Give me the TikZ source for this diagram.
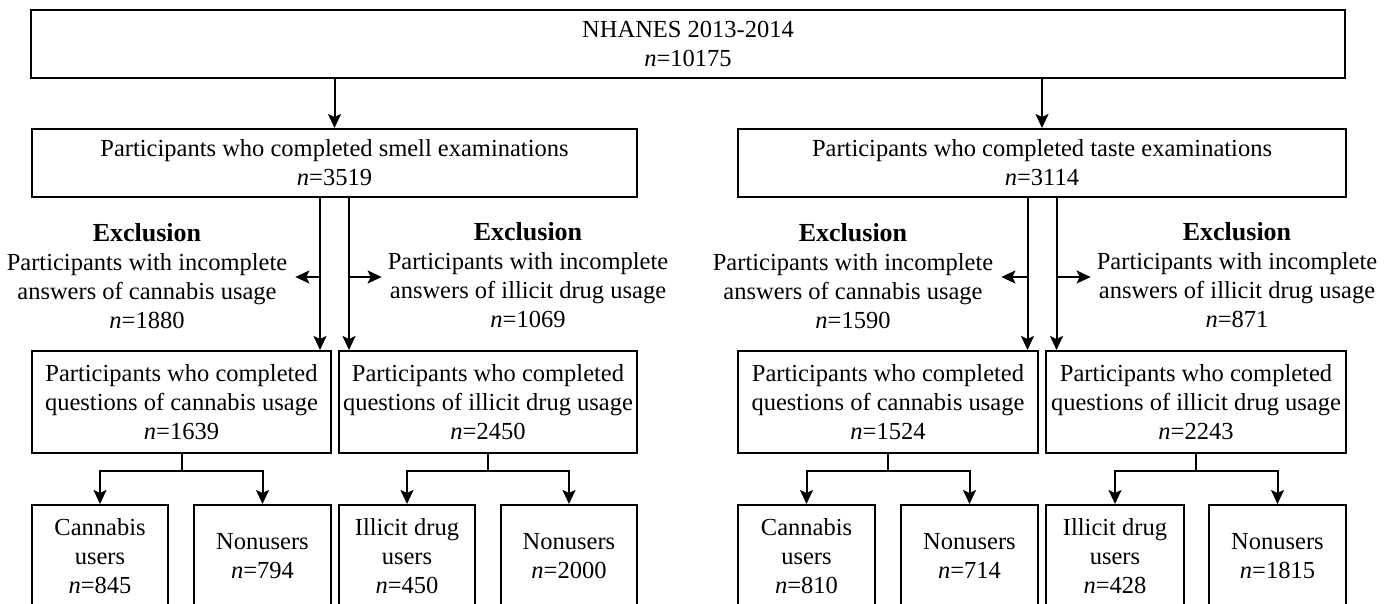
\documentclass[tikz,border=0pt]{standalone}
\usepackage{fontspec}
\setmainfont{Liberation Serif}
\usetikzlibrary{arrows.meta}
\begin{document}
\begin{tikzpicture}[x=1pt,y=-1pt,
  box/.style={draw=black, line width=2pt, align=center, inner sep=0pt,
    font=\fontsize{24.5}{29}\selectfont},
  lbl/.style={align=center, inner sep=0pt, font=\fontsize{24.5}{29}\selectfont},
  arr/.style={line width=2pt, -{Stealth[length=14pt,width=13pt,inset=3pt]}},
  ln/.style={line width=2pt}]
\clip (0,0) rectangle (1387,604);
\fill[white] (0,0) rectangle (1387,604);

% top
\node[box, minimum width=1314pt, minimum height=68pt] (top) at (688,44)
  {NHANES 2013-2014\\\textit{n}=10175};

% second row
\node[box, minimum width=605pt, minimum height=68pt] (smell) at (334.5,163)
  {Participants who completed smell examinations\\\textit{n}=3519};
\node[box, minimum width=608pt, minimum height=68pt] (taste) at (1042,163)
  {Participants who completed taste examinations\\\textit{n}=3114};

% exclusion labels
\node[lbl] (exsl) at (147,276) {{\bfseries\fontsize{26}{29}\selectfont Exclusion}\\Participants with incomplete\\answers of cannabis usage\\\textit{n}=1880};
\node[lbl] (exsr) at (528,275) {{\bfseries\fontsize{26}{29}\selectfont Exclusion}\\Participants with incomplete\\answers of illicit drug usage\\\textit{n}=1069};
\node[lbl] (extl) at (853,276) {{\bfseries\fontsize{26}{29}\selectfont Exclusion}\\Participants with incomplete\\answers of cannabis usage\\\textit{n}=1590};
\node[lbl] (extr) at (1237,275) {{\bfseries\fontsize{26}{29}\selectfont Exclusion}\\Participants with incomplete\\answers of illicit drug usage\\\textit{n}=871};

% third row
\node[box, minimum width=299pt, minimum height=102pt] (sc) at (181.5,402)
  {Participants who completed\\questions of cannabis usage\\\textit{n}=1639};
\node[box, minimum width=298pt, minimum height=102pt] (si) at (488,402)
  {Participants who completed\\questions of illicit drug usage\\\textit{n}=2450};
\node[box, minimum width=300pt, minimum height=102pt] (tc) at (888,402)
  {Participants who completed\\questions of cannabis usage\\\textit{n}=1524};
\node[box, minimum width=300pt, minimum height=102pt] (ti) at (1196,402)
  {Participants who completed\\questions of illicit drug usage\\\textit{n}=2243};

% bottom row
\node[box, minimum width=136pt, minimum height=102pt] (b1) at (100,556)
  {Cannabis\\users\\\textit{n}=845};
\node[box, minimum width=137pt, minimum height=102pt] (b2) at (262.5,556)
  {Nonusers\\\textit{n}=794};
\node[box, minimum width=136pt, minimum height=102pt] (b3) at (407,556)
  {Illicit drug\\users\\\textit{n}=450};
\node[box, minimum width=136pt, minimum height=102pt] (b4) at (569,556)
  {Nonusers\\\textit{n}=2000};
\node[box, minimum width=137pt, minimum height=102pt] (b5) at (806.5,556)
  {Cannabis\\users\\\textit{n}=810};
\node[box, minimum width=137pt, minimum height=102pt] (b6) at (969.5,556)
  {Nonusers\\\textit{n}=714};
\node[box, minimum width=138pt, minimum height=102pt] (b7) at (1115,556)
  {Illicit drug\\users\\\textit{n}=428};
\node[box, minimum width=137pt, minimum height=102pt] (b8) at (1277.5,556)
  {Nonusers\\\textit{n}=1815};

% top arrows
\draw[arr] (top.south -| smell.north) -- (smell.north);
\draw[arr] (top.south -| taste.north) -- (taste.north);

% smell branch lines
\coordinate (sl) at ([xshift=-14.5pt]smell.south);
\coordinate (sr) at ([xshift=14.5pt]smell.south);
\draw[arr] (sl) -- (sl |- sc.north);
\draw[arr] (sr) -- (sr |- si.north);
\draw[arr] (sl |- 0,277) -- ([xshift=8pt]exsl.east |- 0,277);
\draw[arr] (sr |- 0,277) -- ([xshift=-6pt]exsr.west |- 0,277);

% taste branch lines
\coordinate (tl) at ([xshift=-14.5pt]taste.south);
\coordinate (tr) at ([xshift=14.5pt]taste.south);
\draw[arr] (tl) -- (tl |- tc.north);
\draw[arr] (tr) -- (tr |- ti.north);
\draw[arr] (tl |- 0,277) -- ([xshift=8pt]extl.east |- 0,277);
\draw[arr] (tr |- 0,277) -- ([xshift=-6pt]extr.west |- 0,277);

% splits
\draw[arr] (sc.south) -- ++(0,17) -| (b1.north);
\draw[arr] (sc.south) -- ++(0,17) -| (b2.north);
\draw[arr] (si.south) -- ++(0,17) -| (b3.north);
\draw[arr] (si.south) -- ++(0,17) -| (b4.north);
\draw[arr] (tc.south) -- ++(0,17) -| (b5.north);
\draw[arr] (tc.south) -- ++(0,17) -| (b6.north);
\draw[arr] (ti.south) -- ++(0,17) -| (b7.north);
\draw[arr] (ti.south) -- ++(0,17) -| (b8.north);
\end{tikzpicture}
\end{document}
